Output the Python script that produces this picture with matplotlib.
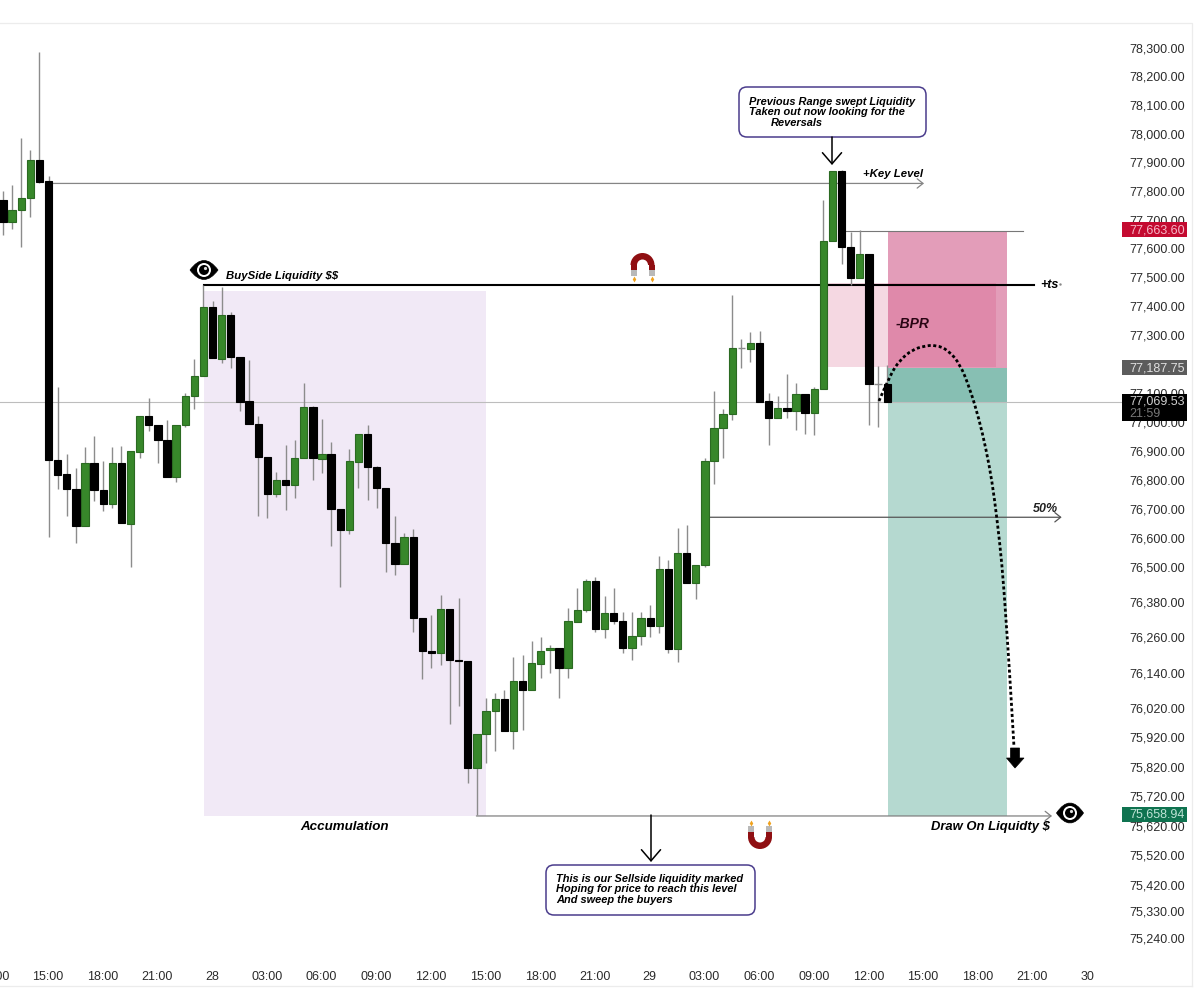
import matplotlib
matplotlib.use('Agg')
import matplotlib.pyplot as plt
import matplotlib.patches as patches
from matplotlib.path import Path
from matplotlib.ticker import NullLocator
from matplotlib.transforms import ScaledTranslation

plt.rcParams['font.family'] = ['Liberation Sans', 'DejaVu Sans']

# 30 min candles, hours counted from 15:00 of the 27th
opens = [77772, 77692, 77734, 77776, 77911, 77835, 76869, 76821, 76769, 76642,
         76858, 76765, 76717, 76858, 76649, 76896, 77020, 76990, 76938, 76810,
         76990, 77089, 77158, 77397, 77217, 77370, 77224, 77072, 76993, 76879,
         76752, 76800, 76783, 76876, 77051, 76872, 76889, 76700, 76628, 76862,
         76958, 76845, 76772, 76583, 76511, 76604, 76327, 76214, 76207, 76357,
         76183, 76180, 75816, 75932, 76010, 76051, 75942, 76112, 76081, 76170,
         76217, 76227, 76156, 76313, 76354, 76453, 76289, 76344, 76316, 76227,
         76265, 76327, 76299, 76494, 76221, 76552, 76446, 76508, 76865, 76979,
         77027, 77255, 77252, 77273, 77072, 77014, 77048, 77038, 77096, 77031,
         77114, 77626, 77870, 77605, 77498, 77581, 77131, 77131]
highs = [77800, 77821, 77985, 77943, 78286, 77853, 77120, 76889, 76841, 76913,
         76951, 76865, 76913, 76917, 76900, 77020, 77082, 76990, 77007, 76990,
         77100, 77217, 77474, 77418, 77467, 77380, 77224, 77214, 77020, 76879,
         76827, 76920, 76938, 77134, 77055, 77010, 76931, 76700, 76907, 76958,
         76990, 76848, 76772, 76676, 76618, 76632, 76327, 76337, 76405, 76357,
         76395, 76180, 75932, 76054, 76071, 76081, 76193, 76200, 76248, 76262,
         76234, 76227, 76361, 76429, 76460, 76467, 76402, 76429, 76350, 76347,
         76350, 76371, 76539, 76525, 76635, 76645, 76508, 76876, 77107, 77045,
         77439, 77287, 77311, 77314, 77100, 77089, 77165, 77134, 77096, 77120,
         77772, 77870, 77876, 77658, 77665, 77581, 77193, 77196]
lows = [77650, 77668, 77605, 77710, 77828, 76604, 76769, 76679, 76583, 76642,
        76728, 76693, 76704, 76652, 76504, 76876, 76969, 76858, 76810, 76793,
        76983, 77045, 77158, 77221, 77203, 77186, 77038, 76993, 76676, 76669,
        76741, 76697, 76738, 76876, 76800, 76824, 76576, 76433, 76614, 76772,
        76731, 76704, 76484, 76474, 76511, 76279, 76119, 76156, 76166, 75966,
        76027, 75765, 75659, 75833, 75874, 75942, 75881, 75945, 76081, 76122,
        76139, 76054, 76122, 76313, 76350, 76279, 76258, 76306, 76207, 76183,
        76234, 76262, 76275, 76207, 76176, 76446, 76392, 76504, 76786, 76876,
        77007, 77186, 77207, 77069, 76920, 77014, 77014, 76972, 76958, 76955,
        77114, 77626, 77546, 77474, 77498, 76990, 76983, 77069]
closes = [77692, 77734, 77776, 77911, 77832, 76869, 76817, 76769, 76642, 76858,
          76765, 76717, 76858, 76652, 76900, 77020, 76990, 76938, 76810, 76990,
          77089, 77158, 77397, 77221, 77370, 77224, 77069, 76993, 76879, 76752,
          76800, 76783, 76876, 77051, 76876, 76889, 76700, 76628, 76865, 76958,
          76845, 76772, 76583, 76511, 76604, 76327, 76214, 76207, 76357, 76183,
          76180, 75816, 75932, 76010, 76051, 75942, 76112, 76081, 76173, 76214,
          76227, 76156, 76316, 76354, 76453, 76289, 76344, 76316, 76227, 76268,
          76327, 76299, 76494, 76221, 76552, 76446, 76508, 76865, 76979, 77027,
          77255, 77255, 77273, 77069, 77014, 77048, 77038, 77096, 77031, 77114,
          77626, 77870, 77605, 77498, 77581, 77131, 77131, 77069]

price_ticks = [78300, 78200, 78100, 78000, 77900, 77800, 77700, 77600, 77500, 77400,
               77300, 77200, 77100, 77000, 76900, 76800, 76700, 76600, 76500, 76380,
               76260, 76140, 76020, 75920, 75820, 75720, 75620, 75520, 75420, 75330,
               75240]
hour_ticks = [-3, 0, 3, 6, 9, 12, 15, 18, 21, 24, 27, 30, 33, 36, 39, 42, 45, 48, 51, 54, 57]
hour_labels = ['12:00', '15:00', '18:00', '21:00', '28', '03:00', '06:00', '09:00', '12:00',
               '15:00', '18:00', '21:00', '29', '03:00', '06:00', '09:00', '12:00', '15:00',
               '18:00', '21:00', '30']

# niveles
stop_price = 77663.60
entry_price = 77187.75
last_price = 77069.53
target_price = 75658.94
sell_level = 75654
key_level = 77828
buyside_level = 77474
half_level = 76673
bpr_top = 77480
bpr_bottom = 77190
accum_top = 77453

GREEN = '#37872a'
GREEN_EDGE = '#2b6a22'
WICK = '#8c8c8c'
TICK_COLOR = '#2b2b2b'

fig = plt.figure(figsize=(12, 10.03), dpi=100, facecolor='white')
W, H = 1200., 1003.
ax = fig.add_axes([-10 / W, 1 - 959.5 / H, 1132 / W, 934 / H])
ax.set_yscale('log')

hours = [-2.47 + 0.5 * i for i in range(len(opens))]

# zonas
ax.add_patch(patches.Rectangle((8.56, sell_level), 24.03 - 8.56, accum_top - sell_level,
                               facecolor='#f1e9f6', edgecolor='none', zorder=1))
ax.add_patch(patches.Rectangle((46.08, entry_price), 52.6 - 46.08, stop_price - entry_price,
                               facecolor='#e39db9', edgecolor='none', zorder=1))
ax.add_patch(patches.Rectangle((46.08, last_price), 52.6 - 46.08, entry_price - last_price,
                               facecolor='#87bfb3', edgecolor='none', zorder=1))
ax.add_patch(patches.Rectangle((46.08, sell_level), 52.6 - 46.08, last_price - sell_level,
                               facecolor='#b5d9d0', edgecolor='none', zorder=1))
ax.add_patch(patches.Rectangle((42.8, bpr_bottom), 52.0 - 42.8, bpr_top - bpr_bottom,
                               facecolor=(0.82, 0.24, 0.43, 0.2), edgecolor='none', zorder=1.2))

# lineas de nivel
ax.axhline(last_price, color='#bdbdbd', lw=0.8, zorder=1.5)
ax.plot([43.7, 53.5], [stop_price, stop_price], color='#777777', lw=0.8, zorder=2)
ax.plot([8.56, 54.1], [buyside_level, buyside_level], color='black', lw=1.5, zorder=2)


def level_arrow(x0, x1, price, color):
    ax.annotate('', xy=(x1, price), xytext=(x0, price),
                arrowprops=dict(arrowstyle='->,head_length=0.3,head_width=0.24', color=color,
                                lw=0.9, shrinkA=0, shrinkB=0, mutation_scale=14), zorder=2)


level_arrow(0, 48.05, key_level, '#858585')
level_arrow(36.2, 55.6, half_level, '#555555')
level_arrow(23.5, 55.07, sell_level, '#808080')

# velas
for h, o, hi, lo, c in zip(hours, opens, highs, lows, closes):
    ax.vlines(h, lo, hi, color=WICK, lw=1.0, zorder=3)
    if c == o:
        ax.hlines(c, h - 0.2, h + 0.2, color=WICK, lw=1.0, zorder=3.5)
    elif c > o:
        ax.bar(h, c - o, 0.4, bottom=o, color=GREEN, edgecolor=GREEN_EDGE, lw=0.8, zorder=4)
    else:
        ax.bar(h, o - c, 0.4, bottom=c, color='black', edgecolor='black', lw=0.8, zorder=4)

ax.set_xlim(-3.18, 58.91)
ax.set_ylim(75172.6, 78384)
ax.yaxis.tick_right()
ax.set_yticks(price_ticks)
ax.set_yticklabels(['{:,.2f}'.format(p) for p in price_ticks])
ax.yaxis.set_minor_locator(NullLocator())
ax.set_xticks(hour_ticks)
ax.set_xticklabels(hour_labels)
ax.tick_params(axis='y', length=0, pad=5, labelsize=9, labelcolor=TICK_COLOR)
ax.tick_params(axis='x', length=0, pad=8, labelsize=9, labelcolor=TICK_COLOR)
# las etiquetas de precio van 1.5 px por encima de su nivel
subir = ScaledTranslation(0, 1.5 / 100, fig.dpi_scale_trans)
for t in ax.yaxis.get_major_ticks():
    t.label2.set_transform(t.label2.get_transform() + subir)
for s in ax.spines.values():
    s.set_visible(False)

# capa de anotaciones, en pixeles de la imagen
ov = fig.add_axes([0, 0, 1, 1], zorder=5)
ov.set_xlim(0, W)
ov.set_ylim(H, 0)
ov.axis('off')
ov.patch.set_visible(False)

# marco
ov.plot([0, 1192, 1192], [24, 24, 987], color='#ececec', lw=0.9)
ov.plot([0, 1192], [987, 987], color='#ececec', lw=0.9)


def note(x, y, s, size=8.3, color='black', ha='left'):
    ov.text(x, y, s, fontsize=size, fontweight='bold', fontstyle='italic', color=color,
            ha=ha, va='center', parse_math=False)


note(226, 276, 'BuySide Liquidity $$', 8.2)
note(345, 827, 'Accumulation', 9.6, ha='center')
note(863, 174, '+Key Level', 8.2)
note(1040, 285, '+ts', 9)
ov.plot([1060], [285], marker='.', ms=1.5, color='#888888')
note(896, 324, '-BPR', 10, color='#2a0514')
note(1033, 509, '50%', 9, color='#222222')
note(931, 827, 'Draw On Liquidty $', 9.4)


def callout(x0, y0, x1, y1, lines):
    ov.add_patch(patches.FancyBboxPatch((x0, y0), x1 - x0, y1 - y0,
                                        boxstyle='round,pad=0,rounding_size=8',
                                        facecolor='white', edgecolor='#4a3c8c', lw=1.1))
    for x, y, s in lines:
        note(x, y, s, 7.9)


callout(739, 88, 926, 138, [(749, 102, 'Previous Range swept Liquidity'),
                            (749, 112, 'Taken out now looking for the'),
                            (771, 123, 'Reversals')])
callout(546, 866, 755, 916, [(556, 879, 'This is our Sellside liquidity marked'),
                             (556, 889, 'Hoping for price to reach this level'),
                             (556, 900, 'And sweep the buyers')])


def down_arrow(x, y0, y1):
    ov.annotate('', xy=(x, y1), xytext=(x, y0),
                arrowprops=dict(arrowstyle='->,head_length=0.5,head_width=0.43', color='black',
                                lw=1.1, shrinkA=0, shrinkB=0, mutation_scale=16))


down_arrow(832, 138, 166)
down_arrow(651, 816, 863)

# curva punteada hacia el objetivo, los puntos son de control
curve_x = [879, 890, 900, 912, 924, 936, 948, 960, 970, 979, 986, 992, 997, 1002, 1006, 1010, 1014]
curve_y = [402, 376, 361, 351, 347, 346, 351, 365, 390, 420, 450, 482, 520, 565, 620, 680, 748]
verts = [(curve_x[0], curve_y[0])]
codes = [Path.MOVETO]
for i in range(1, len(curve_x) - 1):
    verts.append((curve_x[i], curve_y[i]))
    verts.append(((curve_x[i] + curve_x[i + 1]) / 2, (curve_y[i] + curve_y[i + 1]) / 2))
    codes += [Path.CURVE3, Path.CURVE3]
verts.append((curve_x[-1], curve_y[-1]))
codes.append(Path.LINETO)
ov.add_patch(patches.PathPatch(Path(verts, codes), facecolor='none', edgecolor='black', lw=2,
                               ls=(0, (1.1, 0.9))))
ov.add_patch(patches.Polygon([(1010.5, 749), (1019.5, 749), (1019.5, 759), (1024, 759),
                              (1015, 769), (1006.5, 759), (1010.5, 759)],
                             closed=True, facecolor='black', edgecolor='black', lw=0.5))


def eye(cx, cy, w=28, h=19):
    pts = [(cx - w / 2, cy), (cx, cy - h), (cx + w / 2, cy), (cx, cy + h), (cx - w / 2, cy)]
    kinds = [Path.MOVETO, Path.CURVE3, Path.CURVE3, Path.CURVE3, Path.CURVE3]
    ov.add_patch(patches.PathPatch(Path(pts, kinds), facecolor='black', edgecolor='black', lw=0.5))
    ov.add_patch(patches.Circle((cx, cy), 7, facecolor='white', edgecolor='none'))
    ov.add_patch(patches.Circle((cx, cy), 5, facecolor='black', edgecolor='none'))
    ov.add_patch(patches.Circle((cx + 1.5, cy - 1.5), 1.6, facecolor='#dddddd', edgecolor='none'))


eye(204, 271)
eye(1070, 814, 27, 20)


def magnet(cx, cy, up):
    # up=True: arco arriba y puntas abajo
    red = '#8f0f12'
    s = 1 if up else -1
    th = (180, 360) if up else (0, 180)
    ov.add_patch(patches.Wedge((cx, cy), 12, th[0], th[1], width=6.5, facecolor=red, edgecolor='none'))
    for dx in (-9, 9):
        ov.add_patch(patches.Rectangle((cx + dx - 3, min(cy, cy + s * 5)), 6, 5,
                                       facecolor=red, edgecolor='none'))
        ov.add_patch(patches.Rectangle((cx + dx - 3, min(cy + s * 5, cy + s * 11)), 6, 6,
                                       facecolor='#b9b9b9', edgecolor='none'))
        ov.plot([cx + dx], [cy + s * 14], marker='d', ms=3, color='#f0a21e', mew=0)


magnet(642.5, 266, True)
magnet(760, 838, False)


def tag(y0, y1, color, lines):
    ov.add_patch(patches.Rectangle((1122, y0), 65, y1 - y0, facecolor=color, edgecolor='none'))
    for y, s, c in lines:
        ov.text(1129, y, s, fontsize=9, color=c, ha='left', va='center')


tag(223, 238, '#c40a30', [(230.5, '{:,.2f}'.format(stop_price), '#f6b9c8')])
tag(361, 376, '#5c5c5c', [(368, '{:,.2f}'.format(entry_price), '#e0e0e0')])
tag(395, 422, 'black', [(402, '{:,.2f}'.format(last_price), '#cfcfcf'), (414, '21:59', '#777777')])
tag(808, 823, '#0f7350', [(815, '{:,.2f}'.format(target_price), '#bfe3d6')])

fig.savefig('out.png', dpi=100, facecolor='white')
